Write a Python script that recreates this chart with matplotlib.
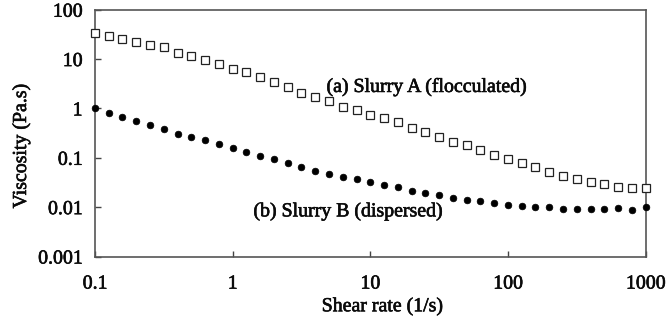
import matplotlib
matplotlib.use("Agg")
import matplotlib.pyplot as plt
import matplotlib.patheffects as pe
from matplotlib.ticker import FixedLocator, FixedFormatter, NullLocator

shear_rate = [0.1, 0.126, 0.158, 0.2, 0.251, 0.316, 0.398, 0.501, 0.631, 0.794,
              1.0, 1.26, 1.58, 2.0, 2.51, 3.16, 3.98, 5.01, 6.31, 7.94,
              10, 12.6, 15.8, 20, 25.1, 31.6, 39.8, 50.1, 63.1, 79.4,
              100, 126, 158, 200, 251, 316, 398, 501, 631, 794, 1000]

slurry_a = [33.3, 29.7, 25.5, 21.8, 19.3, 17.3, 13.5, 11.7, 9.6, 7.9,
            6.3, 5.5, 4.4, 3.5, 2.7, 2.1, 1.73, 1.41, 1.08, 0.93,
            0.73, 0.65, 0.52, 0.41, 0.33, 0.267, 0.21, 0.18, 0.143, 0.114,
            0.095, 0.079, 0.064, 0.052, 0.043, 0.038, 0.033, 0.029, 0.0259, 0.0247, 0.0247]

slurry_b = [1.0, 0.82, 0.67, 0.56, 0.46, 0.39, 0.31, 0.267, 0.229, 0.19,
            0.16, 0.133, 0.110, 0.094, 0.077, 0.066, 0.055, 0.048, 0.041, 0.0366,
            0.032, 0.028, 0.0252, 0.0215, 0.019, 0.0176, 0.0155, 0.0139, 0.0133, 0.0123,
            0.0112, 0.0105, 0.0102, 0.0099, 0.0090, 0.0090, 0.0090, 0.0090, 0.0095, 0.0087, 0.0102]

x_ticks = [0.1, 1, 10, 100, 1000]
x_tick_labels = ["0.1", "1", "10", "100", "1000"]
y_ticks = [0.001, 0.01, 0.1, 1, 10, 100]
y_tick_labels = ["0.001", "0.01", "0.1", "1", "10", "100"]

label_a = "(a) Slurry A (flocculated)"
label_b = "(b) Slurry B (dispersed)"
x_label = "Shear rate (1/s)"
y_label = "Viscosity (Pa.s)"

plt.rcParams['font.family'] = ['Liberation Serif', 'DejaVu Serif']

FS = 14.3
TXT = '#0a0a0a'
heavy = [pe.withStroke(linewidth=0.45, foreground=TXT)]

fig = plt.figure(figsize=(6.72, 3.2), dpi=100)
ax = fig.add_axes([95 / 672, 1 - 256.5 / 320, 550.7 / 672, 246.8 / 320])

ax.plot(shear_rate, slurry_a, linestyle='none', marker='s', markersize=5.2,
        markerfacecolor='white', markeredgecolor='#222222', markeredgewidth=0.9,
        clip_on=False, zorder=3)
ax.plot(shear_rate, slurry_b, linestyle='none', marker='o', markersize=4.8,
        markerfacecolor='black', markeredgecolor='black', markeredgewidth=0.5,
        clip_on=False, zorder=3)

ax.set_xscale('log')
ax.set_yscale('log')
ax.set_xlim(0.1, 1000)
ax.set_ylim(0.001, 100)

ax.xaxis.set_major_locator(FixedLocator(x_ticks))
ax.xaxis.set_major_formatter(FixedFormatter(x_tick_labels))
ax.xaxis.set_minor_locator(NullLocator())
ax.yaxis.set_major_locator(FixedLocator(y_ticks))
ax.yaxis.set_major_formatter(FixedFormatter(y_tick_labels))
ax.yaxis.set_minor_locator(NullLocator())

ax.tick_params(axis='both', which='major', direction='in', length=4.5, width=1,
               color='#444444', labelsize=FS, labelcolor=TXT)
ax.tick_params(axis='x', pad=13)
ax.tick_params(axis='y', pad=9)

for s in ax.spines.values():
    s.set_color('#555555')
    s.set_linewidth(1.2)

ax.set_xlabel(x_label, fontsize=FS, color=TXT)
ax.set_ylabel(y_label, fontsize=FS, color=TXT)
ax.xaxis.set_label_coords((382.5 - 95) / 550.7, (256.5 - 297) / 246.8)
ax.yaxis.set_label_coords((31 - 95) / 550.7, (256.5 - 146) / 246.8)

ta = ax.text((427 - 95) / 550.7, (256.5 - 87) / 246.8, label_a, transform=ax.transAxes,
             ha='center', va='center', fontsize=FS, color=TXT)
tb = ax.text((348.5 - 95) / 550.7, (256.5 - 211.5) / 246.8, label_b, transform=ax.transAxes,
             ha='center', va='center', fontsize=FS, color=TXT)

for t in [ta, tb, ax.xaxis.label, ax.yaxis.label] + ax.get_xticklabels() + ax.get_yticklabels():
    t.set_path_effects(heavy)

fig.savefig("out.png", dpi=100)
